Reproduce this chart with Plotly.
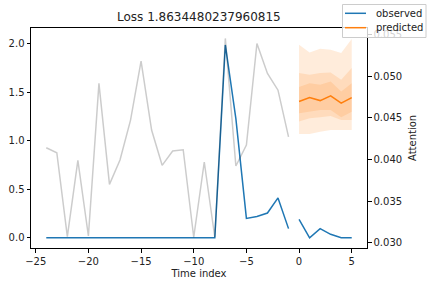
import plotly.graph_objects as go

# ---- data ----
encoder_time = [-24, -23, -22, -21, -20, -19, -18, -17, -16, -15, -14, -13,
                -12, -11, -10, -9, -8, -7, -6, -5, -4, -3, -2, -1]
decoder_time = [0, 1, 2, 3, 4, 5]

observed_encoder = [0, 0, 0, 0, 0, 0, 0, 0, 0, 0, 0, 0,
                    0, 0, 0, 0, 0, 1.99, 1.23, 0.20, 0.22, 0.256, 0.412, 0.095]
observed_decoder = [0.19, 0.0, 0.095, 0.036, 0.0, 0.0]

predicted = [1.406, 1.447, 1.416, 1.465, 1.389, 1.447]
q_outer_low = [1.071, 1.071, 1.095, 1.113, 1.113, 1.113]
q_outer_high = [1.993, 1.913, 1.951, 1.941, 1.907, 2.052]
q_mid_low = [1.199, 1.234, 1.244, 1.258, 1.216, 1.216]
q_mid_high = [1.700, 1.682, 1.700, 1.706, 1.630, 1.752]
q_inner_low = [1.286, 1.302, 1.320, 1.320, 1.244, 1.302]
q_inner_high = [1.555, 1.596, 1.579, 1.613, 1.509, 1.596]

attention = [0.04139, 0.04079, 0.03072, 0.03988, 0.0308, 0.04911, 0.0370, 0.03992,
             0.04471, 0.05179, 0.04351, 0.03928, 0.0410, 0.04115, 0.03065, 0.03968,
             0.03065, 0.05451, 0.0392, 0.04171, 0.0539, 0.0503, 0.0483, 0.0427]

title_text = "Loss 1.8634480237960815"
legend_labels = ["observed", "predicted"]

BLUE = "#1f77b4"
ORANGE = "#ff7f0e"
FILL = "rgba(255,127,14,0.15)"
FONT = "DejaVu Sans"
TXT = "#222"

W, H = 430, 286
ML, MR, MT, MB = 31, 63, 28, 38
PW, PH = W - ML - MR, H - MT - MB


def px_x(px):
    return (px - ML) / PW


def px_y(py):
    return (H - MB - py) / PH


fig = go.Figure()

fig.add_trace(go.Scatter(x=encoder_time, y=observed_encoder, mode="lines",
                         line=dict(color=BLUE, width=1.5), name="observed"))
fig.add_trace(go.Scatter(x=decoder_time, y=observed_decoder, mode="lines",
                         line=dict(color=BLUE, width=1.5), name="observed"))
fig.add_trace(go.Scatter(x=decoder_time, y=predicted, mode="lines",
                         line=dict(color=ORANGE, width=1.5), name="predicted"))

for lo, hi in [(q_outer_low, q_outer_high), (q_mid_low, q_mid_high),
               (q_inner_low, q_inner_high)]:
    fig.add_trace(go.Scatter(x=decoder_time, y=lo, mode="lines",
                             line=dict(width=0, color=ORANGE), hoverinfo="skip"))
    fig.add_trace(go.Scatter(x=decoder_time, y=hi, mode="lines", fill="tonexty",
                             fillcolor=FILL, line=dict(width=0, color=ORANGE),
                             hoverinfo="skip"))

fig.add_trace(go.Scatter(x=encoder_time, y=attention, mode="lines", yaxis="y2",
                         line=dict(color="rgba(0,0,0,0.2)", width=1.5),
                         name="attention"))

axis_common = dict(showgrid=False, zeroline=False, showline=True, linecolor="black",
                   linewidth=1, ticks="outside", ticklen=3.5, tickwidth=0.8,
                   tickcolor="black", tickfont=dict(family=FONT, size=10, color=TXT))

shapes = [
    dict(type="rect", xref="paper", yref="paper",
         x0=px_x(342.5), x1=px_x(426), y0=px_y(37.5), y1=px_y(4.5),
         fillcolor="rgba(255,255,255,0.8)", line=dict(color="#cccccc", width=1),
         layer="above"),
    dict(type="line", xref="paper", yref="paper",
         x0=px_x(345), x1=px_x(366), y0=px_y(13.3), y1=px_y(13.3),
         line=dict(color=BLUE, width=1.5), layer="above"),
    dict(type="line", xref="paper", yref="paper",
         x0=px_x(345), x1=px_x(366), y0=px_y(27.7), y1=px_y(27.7),
         line=dict(color=ORANGE, width=1.5), layer="above"),
]

annotations = [
    dict(text=title_text, xref="paper", yref="paper", x=0.5, y=1,
         xanchor="center", yanchor="bottom", yshift=2, showarrow=False,
         font=dict(family=FONT, size=12, color=TXT)),
    dict(text="Attention", xref="paper", yref="paper", x=px_x(412), y=0.5,
         xanchor="center", yanchor="middle", textangle=-90, showarrow=False,
         font=dict(family=FONT, size=10, color=TXT)),
    dict(text=legend_labels[0], xref="paper", yref="paper", x=px_x(374), y=px_y(13.3),
         xanchor="left", yanchor="middle", showarrow=False,
         font=dict(family=FONT, size=10, color=TXT)),
    dict(text=legend_labels[1], xref="paper", yref="paper", x=px_x(374), y=px_y(27.7),
         xanchor="left", yanchor="middle", showarrow=False,
         font=dict(family=FONT, size=10, color=TXT)),
]

fig.update_layout(
    width=W, height=H,
    margin=dict(l=ML, r=MR, t=MT, b=MB, autoexpand=False),
    plot_bgcolor="white", paper_bgcolor="white",
    showlegend=False,
    font=dict(family=FONT, size=10, color=TXT),
    xaxis=dict(range=[-25.45, 6.45], tickvals=[-25, -20, -15, -10, -5, 0, 5],
               mirror=True,
               title=dict(text="Time index", standoff=4,
                          font=dict(family=FONT, size=10, color=TXT)),
               **axis_common),
    yaxis=dict(range=[-0.105, 2.165], tickvals=[0, 0.5, 1.0, 1.5, 2.0],
               tickformat=".1f", **axis_common),
    yaxis2=dict(range=[0.02936, 0.05576], overlaying="y", side="right",
                tickvals=[0.030, 0.035, 0.040, 0.045, 0.050, 0.055],
                tickformat=".3f", **axis_common),
    shapes=shapes,
    annotations=annotations,
)

fig.write_html("out.html")
